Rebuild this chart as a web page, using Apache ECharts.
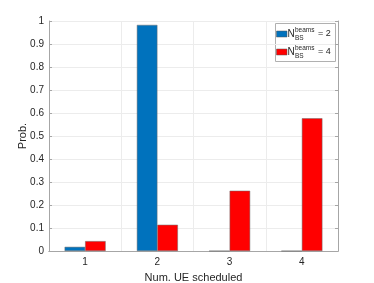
<!DOCTYPE html>
<html><head><meta charset="utf-8">
<script src="https://cdn.jsdelivr.net/npm/echarts@6/dist/echarts.min.js"></script>
<style>html,body{margin:0;padding:0;background:#fff}#c{width:374px;height:283px}</style>
</head><body><div id="c"></div>
<script>
const categories = ['1', '2', '3', '4'];
const beams2 = [0.018, 0.983, 0, 0];
const beams4 = [0.043, 0.114, 0.262, 0.577];
const yTicks = [0, 0.1, 0.2, 0.3, 0.4, 0.5, 0.6, 0.7, 0.8, 0.9, 1];
const legendValues = ['2', '4'];
const colors = ['#0072BD', '#FF0000'];

const font = 'Liberation Sans, Arial, Helvetica, sans-serif';
const txt = '#262626';
const axisC = '#a6a6a6';
const chart = echarts.init(document.getElementById('c'), null, {renderer: 'canvas'});

function legendEntry(i, y) {
  return [
    {type: 'rect', shape: {x: 276.5, y: y - 3, width: 10.5, height: 6}, style: {fill: colors[i], stroke: '#555', lineWidth: 0.5}},
    {type: 'text', x: 287.5, y: y, style: {text: 'N', font: '10px ' + font, fill: txt, verticalAlign: 'middle'}},
    {type: 'text', x: 295, y: y - 4, style: {text: 'beams', font: '6.5px ' + font, fill: txt, verticalAlign: 'middle'}},
    {type: 'text', x: 295, y: y + 4, style: {text: 'BS', font: '6.5px ' + font, fill: txt, verticalAlign: 'middle'}},
    {type: 'text', x: 318, y: y, style: {text: '= ' + legendValues[i], font: '9px ' + font, fill: txt, verticalAlign: 'middle'}}
  ];
}

chart.setOption({
  animation: false,
  grid: {left: 49, right: 36, top: 21, bottom: 32, containLabel: false, outerBoundsMode: 'none'},
  xAxis: [{
    type: 'category', data: categories, position: 'bottom',
    axisLine: {lineStyle: {color: axisC, width: 1}},
    axisTick: {inside: true, alignWithLabel: true, length: 3, lineStyle: {color: axisC}},
    axisLabel: {color: txt, fontSize: 10, fontFamily: font, margin: 6},
    splitLine: {show: true, lineStyle: {color: '#ececec', width: 1}},
    name: 'Num. UE scheduled', nameLocation: 'middle', nameGap: 21, nameMoveOverlap: false,
    nameTextStyle: {color: txt, fontSize: 11, fontFamily: font}
  }, {
    type: 'category', data: categories, position: 'top',
    axisLine: {lineStyle: {color: axisC, width: 1}},
    axisTick: {inside: true, alignWithLabel: true, length: 3, lineStyle: {color: axisC}},
    axisLabel: {show: false}, splitLine: {show: false}
  }],
  yAxis: [{
    type: 'value', min: 0, max: 1, interval: 0.1, position: 'left',
    axisLine: {show: true, lineStyle: {color: axisC, width: 1}},
    axisTick: {show: true, inside: true, length: 3, lineStyle: {color: axisC}},
    axisLabel: {color: txt, fontSize: 10, fontFamily: font, margin: 5,
      formatter: v => String(Math.round(v * 10) / 10)},
    splitLine: {show: true, lineStyle: {color: '#ececec', width: 1}},
    name: 'Prob.', nameLocation: 'middle', nameGap: 21, nameRotate: 90, nameMoveOverlap: false,
    nameTextStyle: {color: txt, fontSize: 11, fontFamily: font}
  }, {
    type: 'value', min: 0, max: 1, interval: 0.1, position: 'right',
    axisLine: {show: true, lineStyle: {color: axisC, width: 1}},
    axisTick: {show: true, inside: true, length: 3, lineStyle: {color: axisC}},
    axisLabel: {show: false}, splitLine: {show: false}
  }],
  series: [
    {type: 'bar', name: 'beams2', data: beams2, xAxisIndex: 0, yAxisIndex: 0,
     barWidth: 20.5, barGap: '0%',
     itemStyle: {color: colors[0], borderColor: '#6a6a6a', borderWidth: 0.5}},
    {type: 'bar', name: 'beams4', data: beams4, xAxisIndex: 0, yAxisIndex: 0,
     barWidth: 20.5, barGap: '0%',
     itemStyle: {color: colors[1], borderColor: '#6a6a6a', borderWidth: 0.5}}
  ],
  graphic: [{
    type: 'group', children: [
      {type: 'rect', shape: {x: 275.5, y: 23.5, width: 60, height: 38}, style: {fill: '#fff', stroke: '#b0b0b0', lineWidth: 1}}
    ].concat(legendEntry(0, 34), legendEntry(1, 52))
  }]
});
</script></body></html>
